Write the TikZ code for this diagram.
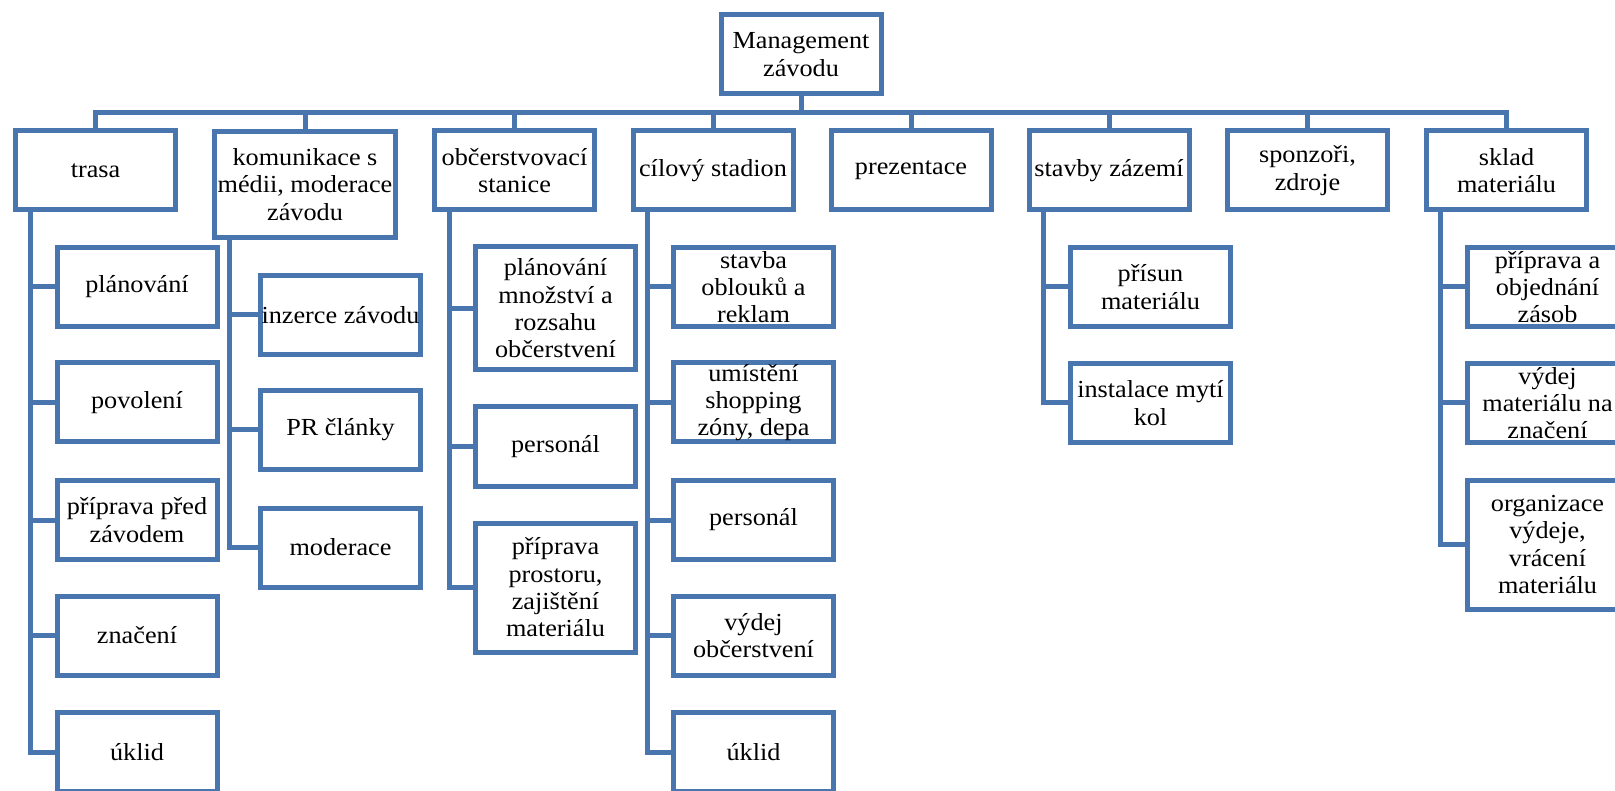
\documentclass[tikz,border=0pt]{standalone}
\usepackage{fontspec}
\setmainfont{Liberation Serif}[FakeStretch=1.07]
\usetikzlibrary{positioning}
\definecolor{boxblue}{RGB}{74,118,176}
\tikzstyle{conn} = [line width=5pt, draw=boxblue]
\tikzstyle{box} = [rectangle, minimum width=160pt, minimum height=79pt, inner sep=0pt, outer sep=0pt, align=center, draw=boxblue, line width=5pt, fill=white, text=black]

\begin{document}
\begin{tikzpicture}[x=1pt, y=-1pt, font=\rmfamily\fontsize{24.5}{27.3}\selectfont]
\useasboundingbox (0,0) rectangle (1615,791);
\fill [white] (0,0) rectangle (1615,791);
\clip (0,0) rectangle (1615,791);

% Top
\node (mgmt) [box] at (801,54.5) {Management\\závodu};

% Main areas
\node (trasa) [box] at (95.5,170.5) {trasa};
\node (media) [box, minimum width=181pt, minimum height=106pt] at (305,184.5) {komunikace s\\médii, moderace\\závodu};
\node (obcerstveni) [box] at (514.5,170.5) {občerstvovací\\stanice};
\node (stadion) [box] at (713,170.5) {cílový stadion};
\node (prezentace) [box] at (911,170.5) {prezentace};
\node (stavby) [box] at (1109,170.5) {stavby zázemí};
\node (sponzori) [box] at (1307.5,170.5) {sponzoři,\\zdroje};
\node (sklad) [box] at (1506.5,170.5) {sklad\\materiálu};

% Trasa
\node (trasa_plan) [box] at (137,287) {plánování};
\node (trasa_povoleni) [box] at (137,402.5) {povolení};
\node (trasa_priprava) [box] at (137,520) {příprava před\\závodem};
\node (trasa_znaceni) [box] at (137,635.5) {značení};
\node (trasa_uklid) [box] at (137,752) {úklid};

% Komunikace s medii
\node (media_inzerce) [box] at (340.5,315) {inzerce závodu};
\node (media_pr) [box] at (340.5,430) {PR články};
\node (media_moderace) [box] at (340.5,547.5) {moderace};

% Obcerstvovaci stanice
\node (obcerstveni_plan) [box, minimum height=123pt] at (555.5,308.5) {plánování\\množství a\\rozsahu\\občerstvení};
\node (obcerstveni_personal) [box] at (555.5,446.5) {personál};
\node (obcerstveni_priprava) [box, minimum height=129pt] at (555.5,587.5) {příprava\\prostoru,\\zajištění\\materiálu};

% Cilovy stadion
\node (stadion_oblouky) [box] at (753.5,287) {stavba\\oblouků a\\reklam};
\node (stadion_shopping) [box] at (753.5,402.5) {umístění\\shopping\\zóny, depa};
\node (stadion_personal) [box] at (753.5,520) {personál};
\node (stadion_vydej) [box] at (753.5,635.5) {výdej\\občerstvení};
\node (stadion_uklid) [box] at (753.5,752) {úklid};

% Stavby zazemi
\node (stavby_prisun) [box] at (1150.5,287) {přísun\\materiálu};
\node (stavby_myti) [box] at (1150.5,403) {instalace mytí\\kol};

% Sklad materialu
\node (sklad_objednani) [box] at (1547.5,287) {příprava a\\objednání\\zásob};
\node (sklad_vydej) [box] at (1547.5,403) {výdej\\materiálu na\\značení};
\node (sklad_organizace) [box, minimum height=129pt] at (1547.5,544.5) {organizace\\výdeje,\\vrácení\\materiálu};

% Connections
\coordinate (bar) at (801,113);
\foreach \n in {trasa, media, obcerstveni, stadion, prezentace, stavby, sponzori, sklad}
  \draw [conn] (mgmt.south) |- (bar) -| (\n.north);
\foreach \n in {trasa_plan, trasa_povoleni, trasa_priprava, trasa_znaceni, trasa_uklid}
  \draw [conn] ([xshift=15pt]trasa.south west) |- (\n.west);
\foreach \n in {media_inzerce, media_pr, media_moderace}
  \draw [conn] ([xshift=15pt]media.south west) |- (\n.west);
\foreach \n in {obcerstveni_plan, obcerstveni_personal, obcerstveni_priprava}
  \draw [conn] ([xshift=15pt]obcerstveni.south west) |- (\n.west);
\foreach \n in {stadion_oblouky, stadion_shopping, stadion_personal, stadion_vydej, stadion_uklid}
  \draw [conn] ([xshift=14pt]stadion.south west) |- (\n.west);
\foreach \n in {stavby_prisun, stavby_myti}
  \draw [conn] ([xshift=14pt]stavby.south west) |- (\n.west);
\foreach \n in {sklad_objednani, sklad_vydej, sklad_organizace}
  \draw [conn] ([xshift=14pt]sklad.south west) |- (\n.west);

\end{tikzpicture}
\end{document}
